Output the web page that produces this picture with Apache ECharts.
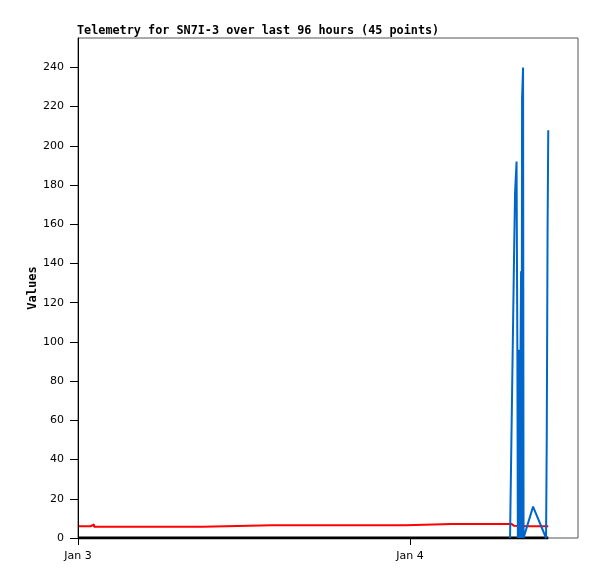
<!DOCTYPE html>
<html>
<head>
<meta charset="utf-8">
<title>Telemetry</title>
<script src="https://cdn.jsdelivr.net/npm/echarts@6/dist/echarts.min.js"></script>
<style>
  html, body { margin: 0; padding: 0; background: #fff; }
  #chart { width: 597px; height: 579px; }
</style>
</head>
<body>
<div id="chart"></div>
<script>
  // hours since Jan 3 00:00 and the readings
  var redHours = [0.07, 0.22, 0.36, 0.72, 0.94, 1.16, 4, 9.0, 9.1, 14, 19, 23.7, 23.8, 27, 31.2, 31.35, 31.5, 32.5, 33.2, 33.99];
  var redValues = [6.0, 7.0, 6.0, 6.0, 6.9, 5.8, 5.8, 5.8, 6.5, 6.5, 6.5, 6.5, 7.1, 7.1, 7.1, 6.3, 6.0, 6.0, 6.0, 6.0];

  var blueHours = [31.229, 31.258, 31.323, 31.388, 31.453, 31.518, 31.590, 31.699, 31.757, 31.793,
                   31.829, 31.865, 31.901, 31.937, 31.988, 32.024, 32.060, 32.096, 32.169, 32.205,
                   32.892, 33.831, 33.882, 33.940, 33.990];
  var blueValues = [0, 16, 48, 80, 112, 144, 176, 192, 96, 0,
                    96, 0, 96, 0, 96, 136, 0, 224, 240, 0,
                    16, 0, 52, 156, 208];

  var blackHours = [0, 33.99];
  var blackValues = [0, 0];

  var xTickLabels = ['Jan 3', 'Jan 4'];

  var DAY = 86400000;
  var start = Date.UTC(2024, 0, 3);

  function toPairs(hours, values) {
    return hours.map(function (h, i) { return [start + h * 3600000, values[i]]; });
  }

  var chart = echarts.init(document.getElementById('chart'));
  var option = {
    animation: false,
    title: {
      text: 'Telemetry for SN7I-3 over last 96 hours (45 points)',
      left: 77,
      top: 25,
      padding: 0,
      textStyle: { fontFamily: 'DejaVu Sans Mono', fontWeight: 'bold', fontSize: 11.8, color: '#000' }
    },
    grid: {
      left: 78, top: 38, right: 19, bottom: 41,
      show: true, borderColor: '#555', borderWidth: 1, backgroundColor: '#fff'
    },
    xAxis: {
      type: 'value',
      min: start,
      max: start + 36.14 * 3600000,
      interval: DAY,
      axisLine: { show: false },
      axisTick: { show: true, length: 7, lineStyle: { color: '#000' } },
      splitLine: { show: false },
      axisLabel: {
        color: '#000', fontFamily: 'DejaVu Sans', fontSize: 11, margin: 13,
        showMaxLabel: false,
        formatter: function (v) {
          var i = Math.round((v - start) / DAY);
          return xTickLabels[i] || '';
        }
      }
    },
    yAxis: {
      type: 'value',
      min: 0,
      max: 255,
      interval: 20,
      name: 'Values',
      nameLocation: 'middle',
      nameGap: 39,
      nameMoveOverlap: false,
      nameTextStyle: { fontFamily: 'DejaVu Sans Mono', fontWeight: 'bold', fontSize: 12, color: '#000' },
      axisLine: { show: true, lineStyle: { color: '#000', width: 1 } },
      axisTick: { show: true, length: 8, lineStyle: { color: '#000' } },
      splitLine: { show: false },
      axisLabel: {
        color: '#000', fontFamily: 'DejaVu Sans', fontSize: 11, margin: 14,
        showMaxLabel: false,
        formatter: function (v) { return v % 20 === 0 ? String(v) : ''; }
      }
    },
    series: [
      {
        name: 'zero', type: 'line', data: toPairs(blackHours, blackValues),
        showSymbol: false, lineStyle: { color: '#000', width: 3 }, z: 1
      },
      {
        name: 'red', type: 'line', step: 'end', data: toPairs(redHours, redValues),
        showSymbol: false, lineStyle: { color: '#ff0000', width: 2 }, z: 2
      },
      {
        name: 'blue', type: 'line', data: toPairs(blueHours, blueValues),
        showSymbol: false, lineStyle: { color: '#0066cc', width: 2 }, z: 3
      }
    ]
  };
  chart.setOption(option);
  window.addEventListener('resize', function () {
    chart.resize();
  });
</script>
</body>
</html>
